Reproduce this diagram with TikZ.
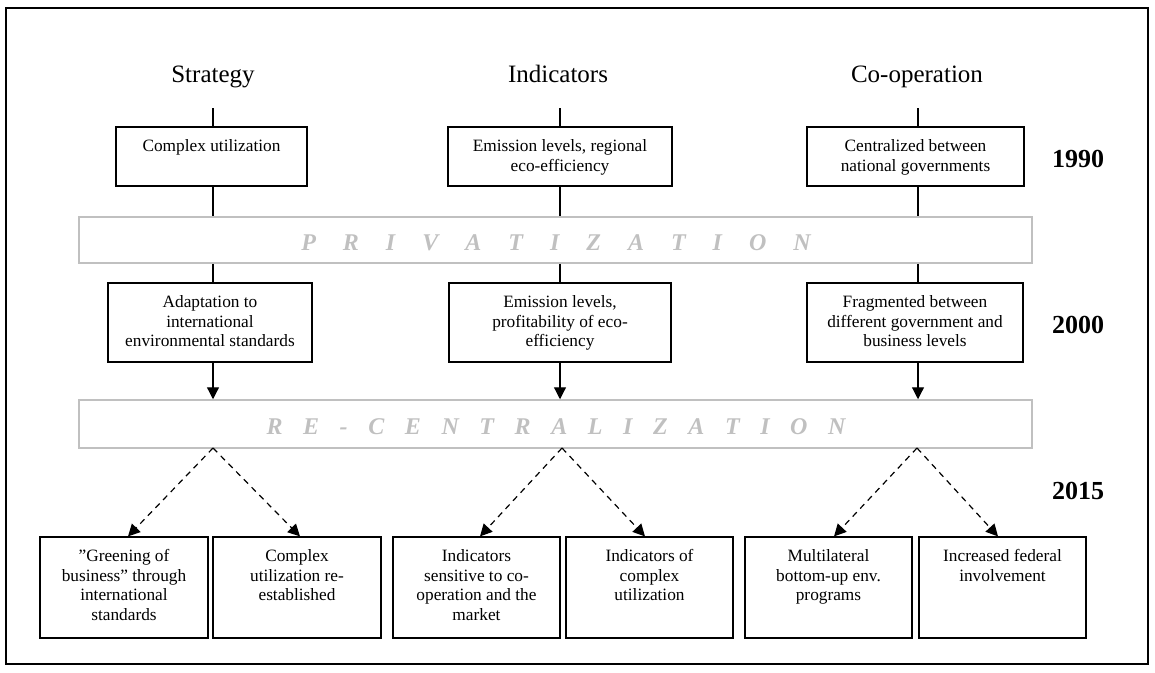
\documentclass[tikz,border=0pt]{standalone}
\usepackage{fontspec}
\setmainfont{Liberation Serif}
\usetikzlibrary{arrows.meta}
\definecolor{bandgray}{RGB}{192,192,192}
\newcommand\diabox[6]{%
  \node[box, minimum width=#4-#2, minimum height=#5-#3] (#1) at ({(#2+#4)/2},{(#3+#5)/2}) {};
  \node[boxtxt] (#1t) at ([yshift=-12pt]#1.north) {\rule{0pt}{13pt}#6};
}
\begin{document}
\begin{tikzpicture}[x=1pt,y=-1pt,
  box/.style={draw, line width=1.2pt, inner sep=0pt},
  boxtxt/.style={font=\fontsize{17.3}{19.5}\selectfont, align=center, anchor=north, inner sep=0pt},
  band/.style={draw=bandgray, line width=1.5pt, inner sep=0pt},
  bandtxt/.style={text=bandgray, font=\fontsize{24}{24}\selectfont\bfseries\itshape, anchor=base, inner sep=0pt},
  title/.style={font=\fontsize{25}{30}\selectfont, anchor=base, inner sep=0pt},
  year/.style={font=\fontsize{26}{30}\selectfont\bfseries, anchor=base, inner sep=0pt},
  conn/.style={line width=1.2pt},
  arr/.style={line width=1.2pt, -{Triangle[length=12pt,width=12pt]}},
  darr/.style={line width=1.2pt, dash pattern=on 6pt off 5pt, -{Triangle[length=12pt,width=12pt]}}
]
\useasboundingbox (0,0) rectangle (1155,672);
\draw[line width=2pt] (6,8) rectangle (1148,664);

% titles
\node[title] (tstrat) at (213,82) {Strategy};
\node[title] (tind) at (558,82) {Indicators};
\node[title] (tcoop) at (917,82) {Co-operation};

% years
\node[year] (y1990) at (1078,167) {1990};
\node[year] (y2000) at (1078,333) {2000};
\node[year] (y2015) at (1078,499) {2015};

% bands
\node[band, minimum width=953, minimum height=46] (priv) at (555.5,240) {};
\node[bandtxt] (privt) at (556,250) {\spaceskip=27pt\relax P R I V A T I Z A T I O N};
\node[band, minimum width=953, minimum height=48] (recen) at (555.5,424) {};
\node[bandtxt] (recent) at (556,434) {\spaceskip=20.6pt\relax R E - C E N T R A L I Z A T I O N};

% top row
\diabox{s1}{116}{127}{307}{186}{Complex utilization}
\diabox{i1}{448}{127}{672}{186}{Emission levels, regional\\eco-efficiency}
\diabox{c1}{807}{127}{1024}{186}{Centralized between\\national governments}

% middle row
\diabox{s2}{108}{283}{312}{362}{Adaptation to\\international\\environmental standards}
\diabox{i2}{449}{283}{671}{362}{Emission levels,\\profitability of eco-\\efficiency}
\diabox{c2}{807}{283}{1023}{362}{Fragmented between\\different government and\\business levels}

% bottom row
\diabox{b1}{40}{537}{208}{638}{”Greening of\\business” through\\international\\standards}
\diabox{b2}{213}{537}{381}{638}{Complex\\utilization re-\\established}
\diabox{b3}{393}{537}{560}{638}{Indicators\\sensitive to co-\\operation and the\\market}
\diabox{b4}{566}{537}{733}{638}{Indicators of\\complex\\utilization}
\diabox{b5}{745}{537}{912}{638}{Multilateral\\bottom-up env.\\programs}
\diabox{b6}{919}{537}{1086}{638}{Increased federal\\involvement}

% vertical axes
\coordinate (as) at (213,108);
\coordinate (ai) at (560,108);
\coordinate (ac) at (918,108);

% strategy column
\draw[conn] (as) -- (as |- s1.north);
\draw[conn] (as |- s1.south) -- (as |- priv.north);
\draw[conn] (as |- priv.south) -- (as |- s2.north);
\draw[arr] (as |- s2.south) -- (as |- recen.north);

% indicators column
\draw[conn] (ai) -- (ai |- i1.north);
\draw[conn] (ai |- i1.south) -- (ai |- priv.north);
\draw[conn] (ai |- priv.south) -- (ai |- i2.north);
\draw[arr] (ai |- i2.south) -- (ai |- recen.north);

% co-operation column
\draw[conn] (ac) -- (ac |- c1.north);
\draw[conn] (ac |- c1.south) -- (ac |- priv.north);
\draw[conn] (ac |- priv.south) -- (ac |- c2.north);
\draw[arr] (ac |- c2.south) -- (ac |- recen.north);

% dashed branches
\coordinate (ds) at (213,448);
\coordinate (di) at (562,448);
\coordinate (dc) at (917,448);
\draw[darr] (ds) -- ([xshift=4pt]b1.north);
\draw[darr] (ds) -- ([xshift=3pt]b2.north);
\draw[darr] (di) -- ([xshift=3.5pt]b3.north);
\draw[darr] (di) -- ([xshift=-4.5pt]b4.north);
\draw[darr] (dc) -- ([xshift=5.5pt]b5.north);
\draw[darr] (dc) -- ([xshift=-4.5pt]b6.north);
\end{tikzpicture}
\end{document}
